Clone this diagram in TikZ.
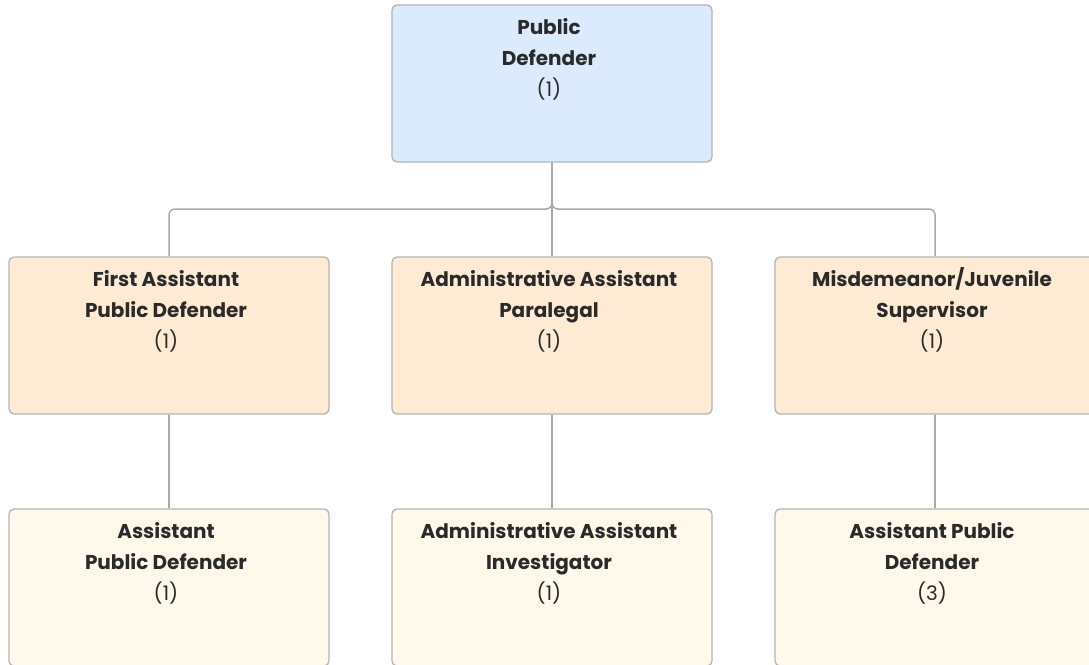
\documentclass[tikz,border=0pt]{standalone}
\usepackage{fontspec}
\setmainfont{Poppins}
\usepackage{tikz}
\usetikzlibrary{positioning}
\definecolor{lineGray}{HTML}{A9A9A9}
\definecolor{edgeGray}{HTML}{B4B4B4}
\definecolor{topFill}{HTML}{DBEBFD}
\definecolor{midFill}{HTML}{FFEBD4}
\definecolor{lowFill}{HTML}{FFF9EC}
\definecolor{inkDark}{HTML}{2A2A2A}

\begin{document}
\begin{tikzpicture}[
    x=1pt, y=-1pt,
    box/.style={rectangle, draw=edgeGray, line width=1.3pt, rounded corners=5pt,
                minimum width=320pt, minimum height=157pt, inner sep=0pt},
    topbox/.style={box, fill=topFill},
    midbox/.style={box, fill=midFill},
    lowbox/.style={box, fill=lowFill},
    % first line is smashed so every title starts on the same baseline
    ttl/.style={anchor=north, inner sep=0pt, yshift=-30pt, xshift=-3pt, align=center,
                text=inkDark, font=\fontsize{20}{31}\selectfont},
    link/.style={draw=lineGray, line width=1.5pt, rounded corners=6pt},
  ]
    \useasboundingbox (0,0) rectangle (1089,664);
    \clip (0,0) rectangle (1089,664);

    \node[topbox, label={[ttl]north:{\smash{\textbf{Public}}\\\textbf{Defender}\\(1)}}] (pd) at (552,83.5) {};

    \node[midbox, label={[ttl]north:{\smash{\textbf{First Assistant}}\\\textbf{Public Defender}\\(1)}}] (fapd) at (169,335.5) {};
    \node[midbox, label={[ttl]north:{\smash{\textbf{Administrative Assistant}}\\\textbf{Paralegal}\\(1)}}] (aap) at (552,335.5) {};
    \node[midbox, label={[ttl]north:{\smash{\textbf{Misdemeanor/Juvenile}}\\\textbf{Supervisor}\\(1)}}] (mjs) at (935,335.5) {};

    \node[lowbox, label={[ttl]north:{\smash{\textbf{Assistant}}\\\textbf{Public Defender}\\(1)}}] (apdl) at (169,587.5) {};
    \node[lowbox, label={[ttl]north:{\smash{\textbf{Administrative Assistant}}\\\textbf{Investigator}\\(1)}}] (aai) at (552,587.5) {};
    \node[lowbox, label={[ttl]north:{\smash{\textbf{Assistant Public}}\\\textbf{Defender}\\(3)}}] (apdr) at (935,587.5) {};

    \coordinate (bus) at (552,209);

    % top level branches
    \draw[link] (pd.south) -- (bus) -| (fapd.north);
    \draw[link] (pd.south) -- (bus) -| (mjs.north);
    \draw[link] (pd.south) -- (aap.north);

    % second level
    \draw[link] (fapd.south) -- (apdl.north);
    \draw[link] (aap.south)  -- (aai.north);
    \draw[link] (mjs.south)  -- (apdr.north);
\end{tikzpicture}
\end{document}
